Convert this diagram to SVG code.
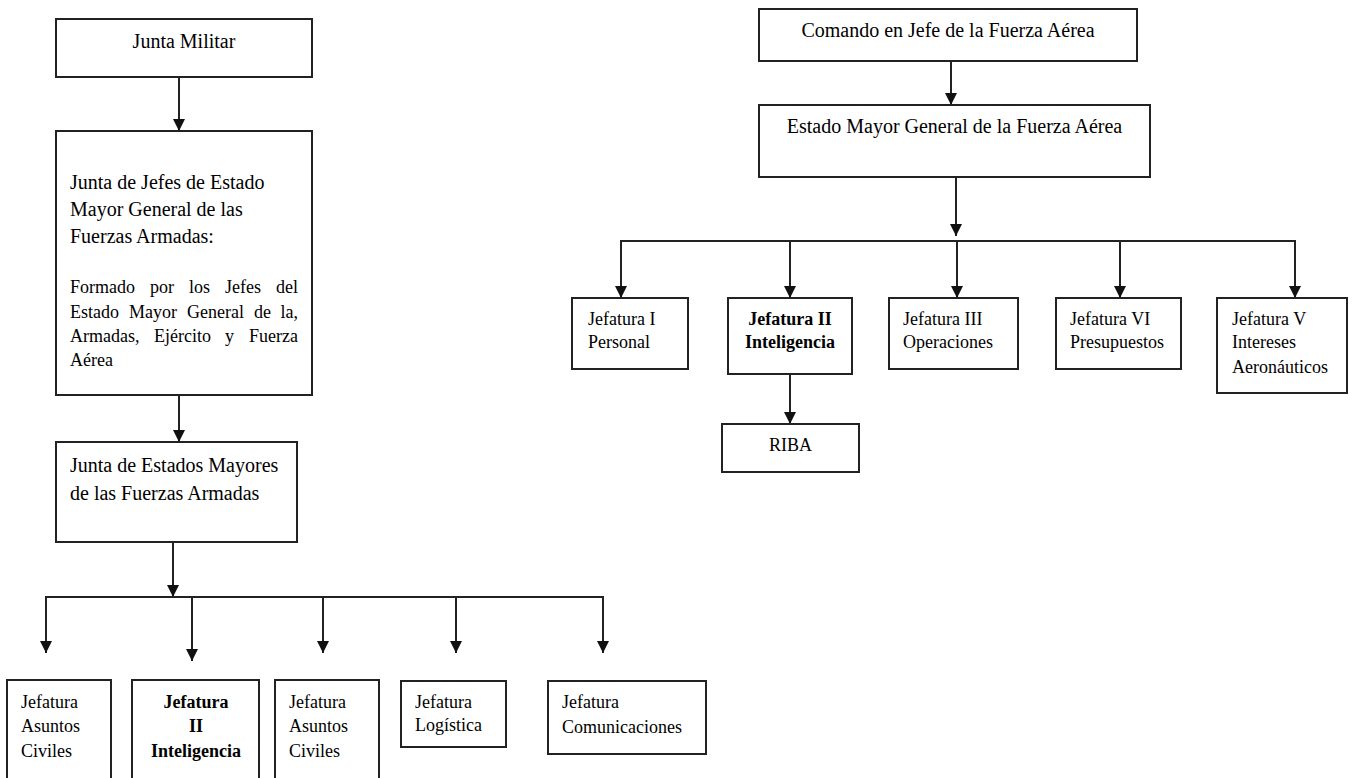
<svg xmlns="http://www.w3.org/2000/svg" width="1354" height="778" viewBox="0 0 1354 778">
<style>
  .box { fill: #fff; stroke: #222; stroke-width: 2; }
  .t20 { font-family: "Liberation Serif", "Times New Roman", serif; font-size: 20px; fill: #000; }
  .t18 { font-family: "Liberation Serif", "Times New Roman", serif; font-size: 18px; fill: #000; }
  .b18 { font-family: "Liberation Serif", "Times New Roman", serif; font-size: 18px; font-weight: bold; fill: #000; }
  .mid { text-anchor: middle; }
  .end { text-anchor: end; }
  .conn { fill: none; stroke: #222; stroke-width: 2; }
  .arr { marker-end: url(#ah); }
</style>
<defs>
  <marker id="ah" viewBox="0 0 10 10" refX="10" refY="5" markerWidth="12" markerHeight="12" markerUnits="userSpaceOnUse" orient="auto">
    <path d="M0,0 L10,5 L0,10 z" fill="#111"/>
  </marker>
</defs>
<rect width="1354" height="778" fill="#fff"/>

<g id="connectors">
  <line class="conn arr" x1="179" y1="77" x2="179" y2="131"/>
  <line class="conn arr" x1="179" y1="395" x2="179" y2="442"/>
  <line class="conn arr" x1="173" y1="542" x2="173" y2="597"/>
  <polyline class="conn" points="46,653 46,597 603,597 603,653"/>
  <line class="conn arr" x1="46" y1="597" x2="46" y2="653"/>
  <line class="conn arr" x1="192" y1="597" x2="192" y2="661"/>
  <line class="conn arr" x1="323" y1="597" x2="323" y2="653"/>
  <line class="conn arr" x1="456" y1="597" x2="456" y2="653"/>
  <line class="conn arr" x1="603" y1="597" x2="603" y2="653"/>

  <line class="conn arr" x1="951" y1="61" x2="951" y2="105"/>
  <line class="conn arr" x1="956" y1="177" x2="956" y2="236"/>
  <polyline class="conn" points="621,295 621,241 1295,241 1295,295"/>
  <line class="conn arr" x1="621" y1="241" x2="621" y2="298"/>
  <line class="conn arr" x1="790" y1="241" x2="790" y2="298"/>
  <line class="conn arr" x1="957" y1="241" x2="957" y2="298"/>
  <line class="conn arr" x1="1120" y1="241" x2="1120" y2="298"/>
  <line class="conn arr" x1="1295" y1="241" x2="1295" y2="298"/>
  <line class="conn arr" x1="790" y1="374" x2="790" y2="424"/>
</g>

<g id="junta-militar">
  <rect class="box" x="56" y="19" width="256" height="58"/>
  <text class="t20 mid" x="184" y="48">Junta Militar</text>
</g>

<g id="junta-jefes">
  <rect class="box" x="56" y="131" width="256" height="264"/>
  <text class="t20" x="70" y="189">Junta de Jefes de Estado</text>
  <text class="t20" x="70" y="216">Mayor General de las</text>
  <text class="t20" x="70" y="243">Fuerzas Armadas:</text>
  <text class="t18" y="293"><tspan x="70">Formado</tspan><tspan x="150">por</tspan><tspan x="189">los</tspan><tspan x="225">Jefes</tspan></text>
  <text class="t18 end" x="298" y="293">del</text>
  <text class="t18" y="318"><tspan x="70">Estado</tspan><tspan x="129">Mayor</tspan><tspan x="187">General</tspan><tspan x="254">de</tspan></text>
  <text class="t18 end" x="298" y="318">la,</text>
  <text class="t18" y="342"><tspan x="70">Armadas,</tspan><tspan x="154">Ejército</tspan><tspan x="225">y</tspan></text>
  <text class="t18 end" x="298" y="342">Fuerza</text>
  <text class="t18" x="70" y="366">Aérea</text>
</g>

<g id="junta-estados">
  <rect class="box" x="56" y="442" width="241" height="100"/>
  <text class="t20" x="70" y="472">Junta de Estados Mayores</text>
  <text class="t20" x="70" y="500">de las Fuerzas Armadas</text>
</g>

<g id="jef-asuntos-1">
  <rect class="box" x="7" y="680" width="104" height="110"/>
  <text class="t18" x="21" y="708">Jefatura</text>
  <text class="t18" x="21" y="732">Asuntos</text>
  <text class="t18" x="21" y="757">Civiles</text>
</g>

<g id="jef-inteligencia-1">
  <rect class="box" x="132" y="680" width="127" height="110"/>
  <text class="b18 mid" x="196" y="708">Jefatura</text>
  <text class="b18 mid" x="196" y="732">II</text>
  <text class="b18 mid" x="196" y="757">Inteligencia</text>
</g>

<g id="jef-asuntos-2">
  <rect class="box" x="275" y="680" width="104" height="110"/>
  <text class="t18" x="289" y="708">Jefatura</text>
  <text class="t18" x="289" y="732">Asuntos</text>
  <text class="t18" x="289" y="757">Civiles</text>
</g>

<g id="jef-logistica">
  <rect class="box" x="401" y="681" width="105" height="66"/>
  <text class="t18" x="415" y="708">Jefatura</text>
  <text class="t18" x="415" y="731">Logística</text>
</g>

<g id="jef-comunicaciones">
  <rect class="box" x="548" y="681" width="158" height="73"/>
  <text class="t18" x="562" y="708">Jefatura</text>
  <text class="t18" x="562" y="733">Comunicaciones</text>
</g>

<g id="comando">
  <rect class="box" x="759" y="9" width="378" height="52"/>
  <text class="t20 mid" x="948" y="37">Comando en Jefe de la Fuerza Aérea</text>
</g>

<g id="estado-mayor">
  <rect class="box" x="759" y="105" width="391" height="72"/>
  <text class="t20 mid" x="954.5" y="133">Estado Mayor General de la Fuerza Aérea</text>
</g>

<g id="jef-personal">
  <rect class="box" x="572" y="298" width="116" height="71"/>
  <text class="t18" x="588" y="325">Jefatura I</text>
  <text class="t18" x="588" y="348">Personal</text>
</g>

<g id="jef-inteligencia-2">
  <rect class="box" x="728" y="298" width="124" height="76"/>
  <text class="b18 mid" x="790" y="325">Jefatura II</text>
  <text class="b18 mid" x="790" y="348">Inteligencia</text>
</g>

<g id="jef-operaciones">
  <rect class="box" x="889" y="298" width="129" height="71"/>
  <text class="t18" x="903" y="325">Jefatura III</text>
  <text class="t18" x="903" y="348">Operaciones</text>
</g>

<g id="jef-presupuestos">
  <rect class="box" x="1056" y="298" width="125" height="71"/>
  <text class="t18" x="1070" y="325">Jefatura VI</text>
  <text class="t18" x="1070" y="348">Presupuestos</text>
</g>

<g id="jef-intereses">
  <rect class="box" x="1217" y="298" width="130" height="95"/>
  <text class="t18" x="1232" y="325">Jefatura V</text>
  <text class="t18" x="1232" y="348">Intereses</text>
  <text class="t18" x="1232" y="373">Aeronáuticos</text>
</g>

<g id="riba">
  <rect class="box" x="722" y="424" width="137" height="48"/>
  <text class="t18 mid" x="790.5" y="451">RIBA</text>
</g>
</svg>
